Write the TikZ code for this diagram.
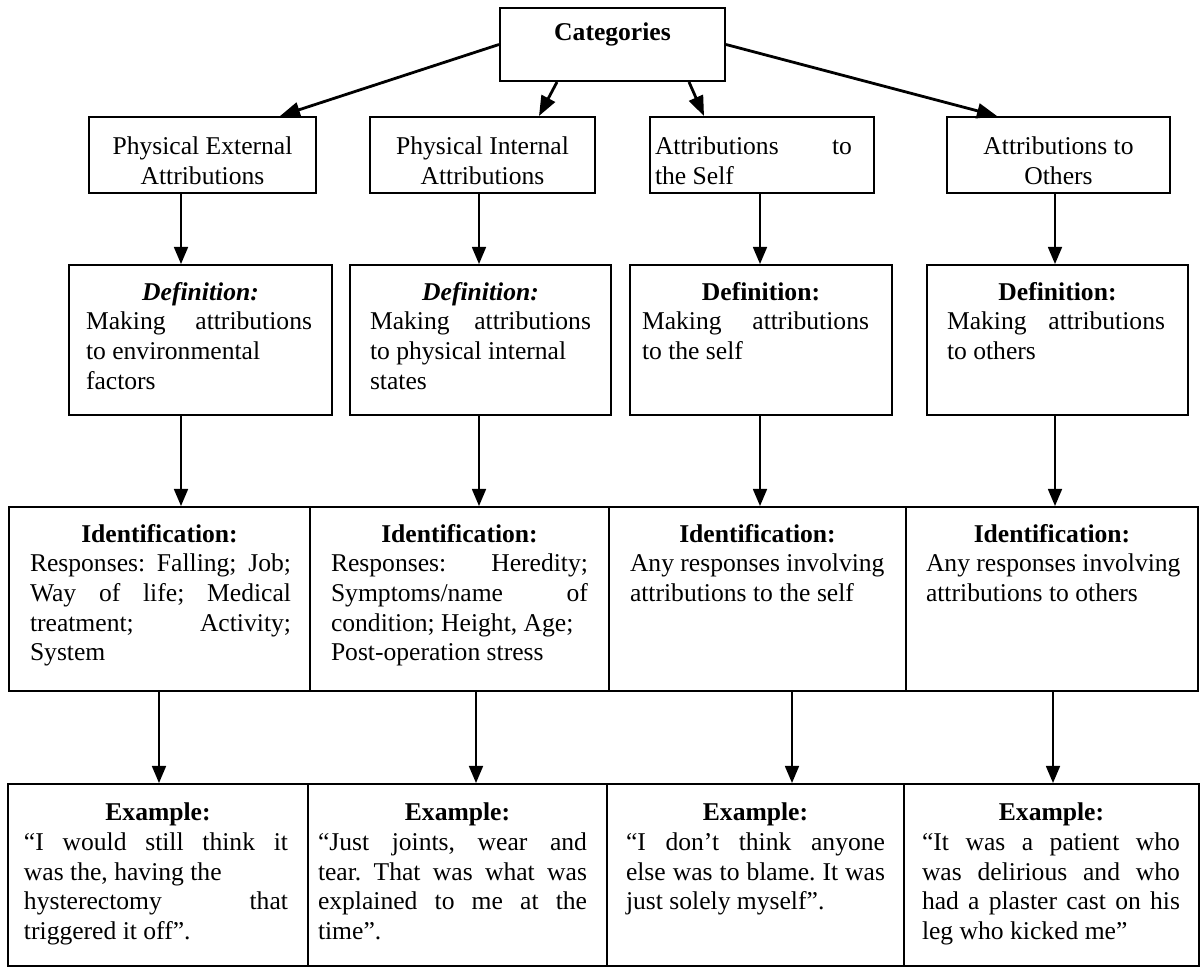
\documentclass[tikz,border=0pt]{standalone}
\usepackage{fontspec}
\setmainfont{Liberation Serif}
\usetikzlibrary{arrows.meta,positioning}
\tolerance=10000
\hbadness=10000
\vbadness=10000
\hyphenpenalty=10000
\exhyphenpenalty=10000
\frenchspacing
% text block of a box: width, height, top gap, left and right margin, text
\newcommand{\cellpar}[6]{\parbox[t][#2][t]{#1}{\vspace*{#3}\leftskip=#4\relax\rightskip=#5\relax #6}}

\begin{document}
\begin{tikzpicture}[x=0.5pt,y=-0.5pt]
\tikzstyle{cell}=[draw, line width=1pt, anchor=north west, inner sep=0pt,
font=\fontsize{12.8}{14.8}\selectfont]
\tikzstyle{arr}=[-{Triangle[length=8.5pt,width=7pt]}, line width=0.8pt]
\tikzstyle{bigarr}=[-{Triangle[length=10pt,width=7.5pt]}, line width=1.4pt]
\fill[white] (0,0) rectangle (1200,967);
\useasboundingbox (0,0) rectangle (1200,967);

\node[cell] at (499,7) (cat) {\cellpar{112.5pt}{36.5pt}{7.4pt}{0pt}{0pt}{{\centering\textbf{Categories}\par}}};

% first row
\node[cell] at (88,116) (ext) {\cellpar{113.5pt}{38pt}{10pt}{0pt}{0pt}{{\centering Physical External\\Attributions\par}}};
\node[cell] at (369,116) (int) {\cellpar{112.5pt}{38pt}{10pt}{0pt}{0pt}{{\centering Physical Internal\\Attributions\par}}};
\node[cell] at (649,116) (self) {\cellpar{112pt}{38pt}{10pt}{2.5pt}{11pt}{Attributions to\linebreak the Self}};
\node[cell] at (946,116) (oth) {\cellpar{111.5pt}{38pt}{10pt}{0pt}{0pt}{{\centering Attributions to\\Others\par}}};

% definitions
\node[cell] at (68,264) (dext) {\cellpar{131.5pt}{75pt}{8.6pt}{8.5pt}{10pt}{{\centering\textbf{\textit{Definition:}}\par}Making attributions\linebreak to environmental\\ factors}};
\node[cell] at (349,264) (dint) {\cellpar{130.5pt}{75pt}{8.6pt}{10pt}{10pt}{{\centering\textbf{\textit{Definition:}}\par}Making attributions\linebreak to physical internal\\ states}};
\node[cell] at (629,264) (dself) {\cellpar{131pt}{75pt}{8.6pt}{6pt}{11.5pt}{{\centering\textbf{Definition:}\par}Making attributions\linebreak to the self}};
\node[cell] at (926,264) (doth) {\cellpar{130.5pt}{75pt}{8.6pt}{10pt}{11.5pt}{{\centering\textbf{Definition:}\par}Making attributions\linebreak to others}};

% identification
\node[cell] at (8,506) (iext) {\cellpar{150.5pt}{92pt}{8.6pt}{10.5pt}{9.5pt}{{\centering\textbf{Identification:}\par}Responses: Falling; Job;\linebreak Way of life; Medical\linebreak treatment; Activity;\linebreak System}};
\node[cell] at (309,506) (iint) {\cellpar{149.5pt}{92pt}{8.6pt}{10.5pt}{10.5pt}{{\centering\textbf{Identification:}\par}Responses: Heredity;\linebreak Symptoms/name of\linebreak condition; Height, Age;\\ Post-operation stress}};
\node[cell] at (608,506) (iself) {\cellpar{148.5pt}{92pt}{8.6pt}{10.5pt}{10pt}{{\centering\textbf{Identification:}\par}Any responses involving\\ attributions to the self}};
\node[cell] at (905,506) (ioth) {\cellpar{146pt}{92pt}{8.6pt}{10pt}{6.5pt}{{\centering\textbf{Identification:}\par}Any responses involving\\ attributions to others}};

% examples
\node[cell] at (7,783) (eext) {\cellpar{150pt}{91pt}{9.6pt}{8pt}{10pt}{{\centering\textbf{Example:}\par}“I would still think it\linebreak was the, having the\\ hysterectomy that\linebreak triggered it off”.}};
\node[cell] at (307,783) (eint) {\cellpar{149.5pt}{91pt}{9.6pt}{5pt}{10pt}{{\centering\textbf{Example:}\par}“Just joints, wear and\linebreak tear. That was what was\linebreak explained to me at the\linebreak time”.}};
\node[cell] at (606,783) (eself) {\cellpar{148.5pt}{91pt}{9.6pt}{9.5pt}{9.5pt}{{\centering\textbf{Example:}\par}“I don’t think anyone\linebreak else was to blame. It was\linebreak just solely myself”.}};
\node[cell] at (903,783) (eoth) {\cellpar{147.5pt}{91pt}{9.6pt}{9pt}{9.5pt}{{\centering\textbf{Example:}\par}“It was a patient who\linebreak was delirious and who\linebreak had a plaster cast on his\linebreak leg who kicked me”}};

% arrow columns
\coordinate (col1) at (181,0);
\coordinate (col2) at (479,0);
\coordinate (col3) at (760,0);
\coordinate (col4) at (1055,0);
\coordinate (low1) at (159,0);
\coordinate (low2) at (476,0);
\coordinate (low3) at (792,0);
\coordinate (low4) at (1053,0);

\draw[bigarr] (cat.west) -- ([xshift=38.75pt]ext.north);
\draw[bigarr] ([xshift=-27.75pt]cat.south) -- ([xshift=28.25pt]int.north);
\draw[bigarr] ([xshift=38.25pt]cat.south) -- ([xshift=-29pt]self.north);
\draw[bigarr] (cat.east) -- ([xshift=-30.75pt]oth.north);

\path[arr] (ext.south -| col1) edge (dext.north -| col1);
\path[arr] (int.south -| col2) edge (dint.north -| col2);
\path[arr] (self.south -| col3) edge (dself.north -| col3);
\path[arr] (oth.south -| col4) edge (doth.north -| col4);
\path[arr] (dext.south -| col1) edge (iext.north -| col1);
\path[arr] (dint.south -| col2) edge (iint.north -| col2);
\path[arr] (dself.south -| col3) edge (iself.north -| col3);
\path[arr] (doth.south -| col4) edge (ioth.north -| col4);
\path[arr] (iext.south -| low1) edge (eext.north -| low1);
\path[arr] (iint.south -| low2) edge (eint.north -| low2);
\path[arr] (iself.south -| low3) edge (eself.north -| low3);
\path[arr] (ioth.south -| low4) edge (eoth.north -| low4);

\end{tikzpicture}
\end{document}
